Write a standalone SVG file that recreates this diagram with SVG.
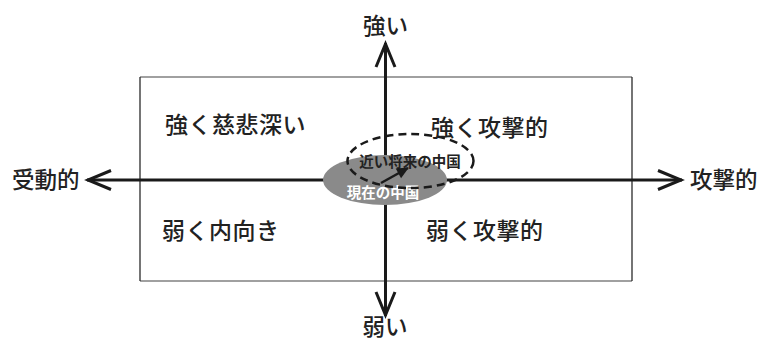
<svg xmlns="http://www.w3.org/2000/svg" width="761" height="340" viewBox="0 0 761 340">
<defs>
<style>
.t{font-family:"Noto Sans CJK JP","Noto Sans CJK SC",sans-serif;fill:#222;}
.q{font-size:23px;font-weight:500;letter-spacing:0.5px;}
.ax{font-size:22.5px;font-weight:500;}
.axis{stroke:#1a1a1a;stroke-width:3;fill:none;}
.sm{font-size:14.5px;font-weight:700;}
</style>
<marker id="chev" viewBox="-26 -12 30 24" refX="0" refY="0" markerWidth="30" markerHeight="24" markerUnits="userSpaceOnUse" orient="auto">
<path d="M-24,-9.5 L-1,0 L-24,9.5" fill="none" stroke="#1a1a1a" stroke-width="3"/>
</marker>
<marker id="tri" viewBox="-12 -7 14 14" refX="0" refY="0" markerWidth="14" markerHeight="14" markerUnits="userSpaceOnUse" orient="auto">
<path d="M-11,-5.5 L1,0 L-11,5.5 Z" fill="#1a1a1a"/>
</marker>
</defs>
<g id="frame">
<line x1="140" y1="77" x2="632" y2="77" stroke="#808080" stroke-width="1.5"/>
<line x1="140" y1="281" x2="632" y2="281" stroke="#808080" stroke-width="1.5"/>
<line x1="140" y1="77" x2="140" y2="281" stroke="#2a2a2a" stroke-width="1.3"/>
<line x1="632" y1="77" x2="632" y2="281" stroke="#2a2a2a" stroke-width="1.3"/>
</g>
<g id="connectors">
<line class="axis" x1="385.5" y1="180" x2="385.5" y2="43" marker-end="url(#chev)"/>
<line class="axis" x1="385.5" y1="180" x2="385.5" y2="316" marker-end="url(#chev)"/>
<line class="axis" x1="385.5" y1="180" x2="87" y2="180" marker-end="url(#chev)"/>
<line class="axis" x1="385.5" y1="180" x2="682" y2="180" marker-end="url(#chev)"/>
</g>
<g id="current-china">
<ellipse cx="385" cy="180" rx="62" ry="25" fill="#8a8a8a"/>
<text class="t sm" x="383" y="198" text-anchor="middle" style="fill:#ffffff">現在の中国</text>
</g>
<g id="future-china">
<ellipse cx="410.5" cy="161" rx="63" ry="27" fill="none" stroke="#1a1a1a" stroke-width="2.5" stroke-dasharray="8 5"/>
<text class="t sm" x="410" y="167" text-anchor="middle">近い将来の中国</text>
</g>
<g id="trend-arrow">
<line x1="381" y1="183" x2="408" y2="168" stroke="#1a1a1a" stroke-width="2.5" marker-end="url(#tri)"/>
</g>
<g id="q-strong-compassionate"><text class="t q" x="165" y="133">強く慈悲深い</text></g>
<g id="q-strong-aggressive"><text class="t q" x="431" y="136">強く攻撃的</text></g>
<g id="q-weak-inward"><text class="t q" x="162" y="239">弱く内向き</text></g>
<g id="q-weak-aggressive"><text class="t q" x="426" y="239">弱く攻撃的</text></g>
<g id="label-strong"><text class="t ax" x="385.5" y="34" text-anchor="middle">強い</text></g>
<g id="label-weak"><text class="t ax" x="385" y="335" text-anchor="middle">弱い</text></g>
<g id="label-passive"><text class="t ax" x="12" y="188">受動的</text></g>
<g id="label-aggressive"><text class="t ax" x="690" y="188">攻撃的</text></g>
</svg>
